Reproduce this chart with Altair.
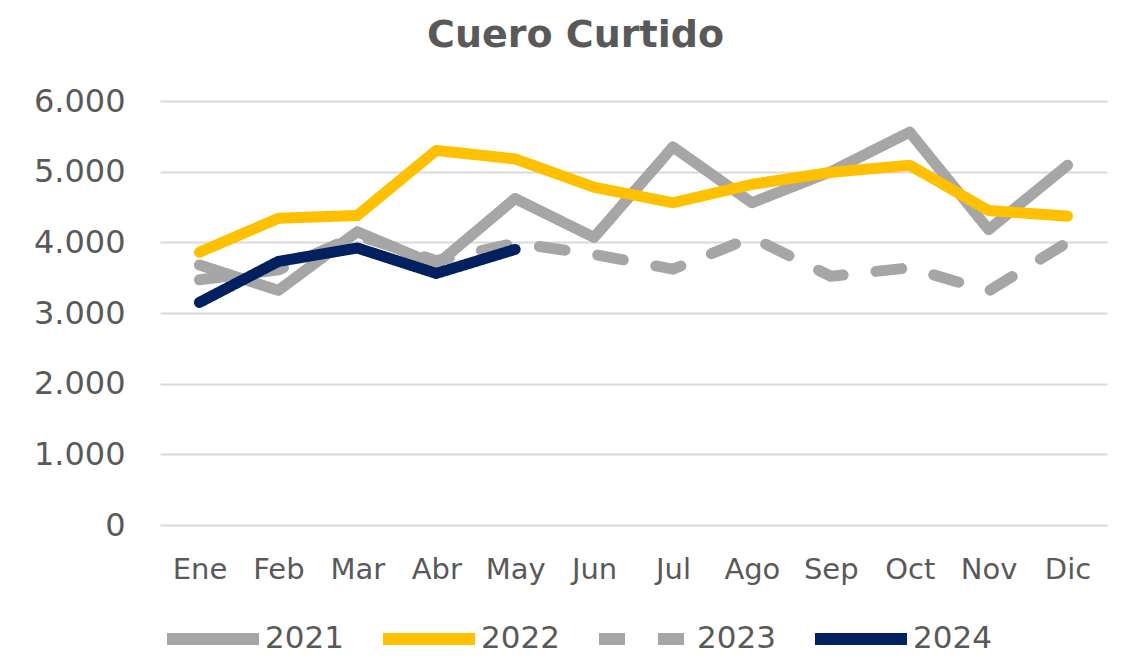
import altair as alt
import pandas as pd

months = ["Ene", "Feb", "Mar", "Abr", "May", "Jun", "Jul", "Ago", "Sep", "Oct", "Nov", "Dic"]
years = ["2021", "2022", "2023", "2024"]
v2021 = [3680, 3320, 4150, 3680, 4620, 4070, 5350, 4560, 5000, 5560, 4180, 5090]
v2022 = [3860, 4340, 4380, 5300, 5180, 4780, 4560, 4820, 4990, 5090, 4450, 4370]
v2023 = [3470, 3610, 4100, 3740, 3990, 3830, 3620, 4070, 3520, 3640, 3310, 4000]
v2024 = [3150, 3730, 3920, 3560, 3900]

colors = ["#A6A6A6", "#FFC000", "#A6A6A6", "#002060"]
dashes = [[1, 0], [1, 0], [26, 33], [1, 0]]

rows = []
for y, vals in zip(years, [v2021, v2022, v2023, v2024]):
    for m, v in zip(months, vals):
        rows.append({"mes": m, "anio": y, "valor": v})
df = pd.DataFrame(rows)

FONT = "DejaVu Sans"
TXT = "#595959"

legend = alt.Legend(title=None, orient="none", direction="horizontal",
                    legendX=1, legendY=486, symbolType="stroke",
                    symbolSize=8464, symbolStrokeWidth=12,
                    labelFont=FONT, labelFontSize=31, labelColor=TXT,
                    labelOffset=0, columnPadding=15)

chart = alt.Chart(df).mark_line(strokeWidth=11, strokeCap="round", strokeJoin="round").encode(
    x=alt.X("mes:N", sort=months, title=None,
            scale=alt.Scale(type="point", padding=0.5),
            axis=alt.Axis(labelAngle=0, ticks=False, tickSize=0, domain=False, grid=False,
                          labelFont=FONT, labelFontSize=29, labelColor=TXT, labelPadding=30)),
    y=alt.Y("valor:Q", title=None, scale=alt.Scale(domain=[0, 6000], nice=False),
            axis=alt.Axis(values=[0, 1000, 2000, 3000, 4000, 5000, 6000], ticks=False, tickSize=0,
                          domain=False, gridColor="#D9D9D9", gridWidth=2,
                          labelExpr="replace(format(datum.value, ','), ',', '.')",
                          labelFont=FONT, labelFontSize=32, labelColor=TXT, labelPadding=35)),
    color=alt.Color("anio:N", scale=alt.Scale(domain=years, range=colors), legend=legend),
    strokeDash=alt.StrokeDash("anio:N", scale=alt.Scale(domain=years, range=dashes), legend=legend),
    order=alt.Order("anio:N"),
).properties(
    width=947,
    height=424,
    title=alt.TitleParams("Cuero Curtido", font=FONT, fontSize=38, fontWeight="bold",
                          color=TXT, anchor="middle", dx=-58, offset=30),
    padding={"left": 152, "top": 93, "right": 5, "bottom": 129},
    autosize=alt.AutoSizeParams(type="none"),
).configure_view(stroke=None)

chart.save("out.html", embed_options={"renderer": "svg", "actions": False})
